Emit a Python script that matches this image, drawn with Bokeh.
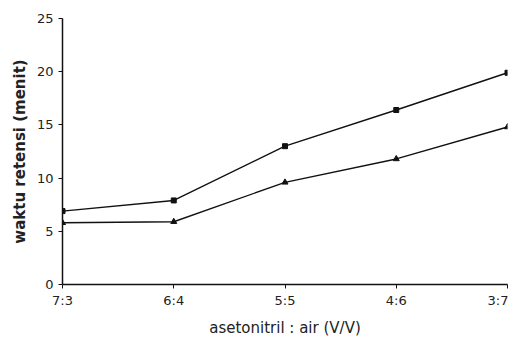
from bokeh.plotting import figure
from bokeh.models import FixedTicker, Range1d
from bokeh.embed import file_html
from bokeh.resources import INLINE

ratios = ["7:3", "6:4", "5:5", "4:6", "3:7"]
series_square = [6.9, 7.9, 13.0, 16.4, 19.9]
series_triangle = [5.8, 5.9, 9.6, 11.8, 14.8]
y_ticks = [0, 5, 10, 15, 20, 25]

x = list(range(len(ratios)))

p = figure(width=508, height=341, output_backend="svg", toolbar_location=None,
           x_range=Range1d(0, len(ratios) - 1), y_range=Range1d(0, 25),
           min_border_left=62, min_border_right=1, min_border_top=18, min_border_bottom=57)
p.outline_line_color = None
p.background_fill_color = "white"
p.xgrid.visible = False
p.ygrid.visible = False

p.line(x, series_square, line_color="#111", line_width=1.4)
p.scatter(x, series_square, marker="square", size=5, fill_color="#111", line_color="#111")
p.line(x, series_triangle, line_color="#111", line_width=1.4)
p.scatter(x, series_triangle, marker="triangle", size=6, fill_color="#111", line_color="#111")

p.xaxis.ticker = FixedTicker(ticks=x)
p.xaxis.major_label_overrides = {i: r for i, r in enumerate(ratios)}
p.yaxis.ticker = FixedTicker(ticks=y_ticks)

for ax in (p.xaxis, p.yaxis):
    ax.axis_line_color = "#111"
    ax.axis_line_width = 1.5
    ax.major_tick_line_color = "#111"
    ax.major_tick_out = 4
    ax.major_tick_in = 0
    ax.minor_tick_line_color = None
    ax.major_label_text_font = "DejaVu Sans"
    ax.major_label_text_font_size = "13px"
    ax.major_label_text_color = "#222"
    ax.axis_label_text_font = "DejaVu Sans"
    ax.axis_label_text_font_size = "15px"
    ax.axis_label_text_color = "#222"

p.xaxis.axis_label = "asetonitril : air (V/V)"
p.yaxis.axis_label = "waktu retensi (menit)"
p.xaxis.axis_label_text_font_style = "normal"
p.yaxis.axis_label_text_font_style = "bold"
p.xaxis.major_label_standoff = 4
p.xaxis.axis_label_standoff = 8
p.yaxis.major_label_standoff = 5
p.yaxis.axis_label_standoff = 5

open("out.html", "w").write(file_html(p, INLINE))
